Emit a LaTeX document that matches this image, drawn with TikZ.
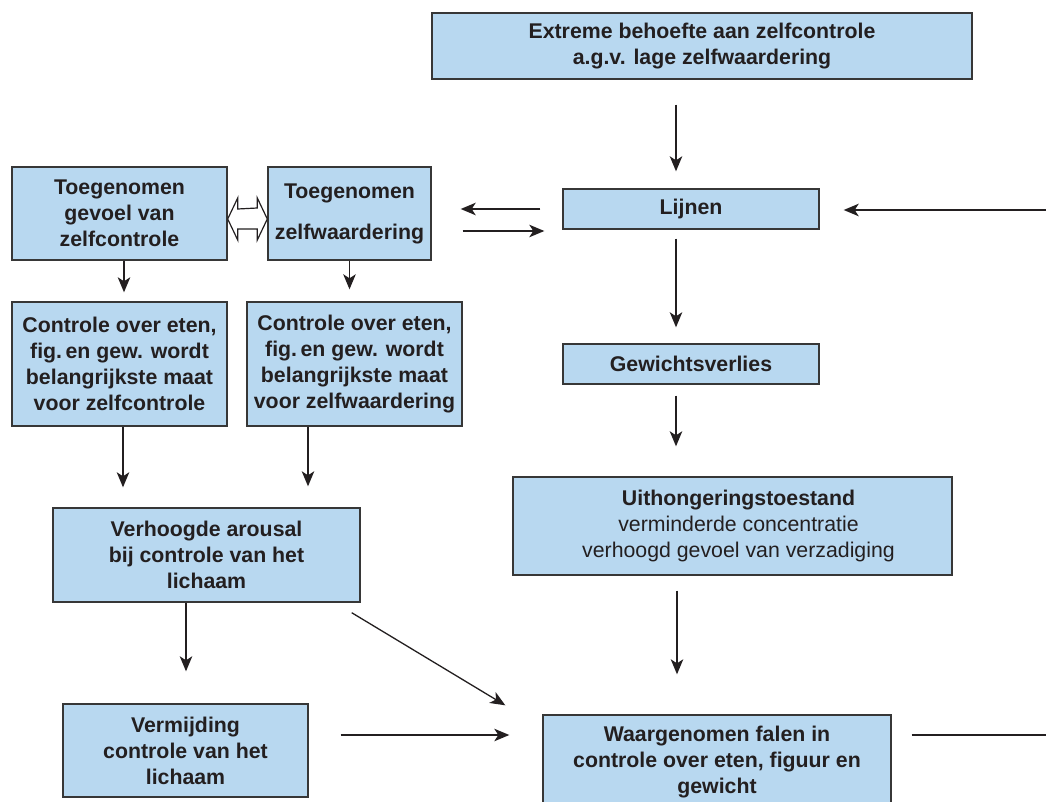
\documentclass[tikz,border=0pt]{standalone}
\usepackage{fontspec}
\setmainfont{Liberation Sans}
\usetikzlibrary{arrows.meta,calc}
\definecolor{boxfill}{RGB}{184,216,240}
\definecolor{boxline}{RGB}{55,55,55}
\definecolor{ink}{RGB}{35,31,32}
\tikzset{
  box/.style={rectangle, draw=boxline, line width=1.4pt, fill=boxfill, text=ink,
    font=\bfseries\fontsize{21.3}{26}\selectfont, align=center, inner sep=0pt},
  arr/.style={draw=ink, line width=1.3pt, -{Stealth[length=15pt,width=12.5pt,inset=4pt]}},
  plainline/.style={draw=ink, line width=1.3pt},
  dblarrow/.style={draw=ink, line width=1.2pt, fill=white, line join=miter}
}
\begin{document}
\begin{tikzpicture}[x=1pt,y=-1pt]
\useasboundingbox (0,0) rectangle (1046,802);
\clip (0,0) rectangle (1046,802);
\fill[white] (0,0) rectangle (1046,802);

% right column
\node[box, minimum width=540pt, minimum height=66pt] (top) at (702,46)
  {Extreme behoefte aan zelfcontrole\\a.g.v. lage zelfwaardering};
\node[box, minimum width=256pt, minimum height=40pt] (lijnen) at (691,209) {Lijnen};
\node[box, minimum width=256pt, minimum height=40pt] (gewicht) at (691,364) {Gewichtsverlies};
\node[box, minimum width=439pt, minimum height=98pt] (uith) at (732.5,526)
  {\hspace*{12pt}Uithongeringstoestand\\\hspace*{12pt}{\mdseries verminderde concentratie}\\\hspace*{12pt}{\mdseries verhoogd gevoel van verzadiging}};
\node[box, minimum width=348pt, minimum height=95pt] (waarg) at (717,762.5)
  {Waargenomen falen in\\controle over eten, figuur en\\gewicht};

% left part
\node[box, minimum width=215pt, minimum height=93pt] (tgz) at (119.5,213.5)
  {Toegenomen\\gevoel van\\zelfcontrole};
\node[box, minimum width=163pt, minimum height=93pt] (tzw) at (349.5,213.5)
  {\rule{0pt}{6pt}Toegenomen\\[15pt]zelfwaardering};
\node[box, minimum width=215pt, minimum height=124pt] (coz) at (119.5,364)
  {Controle over eten,\\fig.\,en gew. wordt\\belangrijkste maat\\voor zelfcontrole};
\node[box, minimum width=215pt, minimum height=124pt] (cozw) at (354.5,364)
  {Controle over eten,\\fig.\,en gew. wordt\\belangrijkste maat\\voor zelfwaardering};
\node[box, minimum width=307pt, minimum height=94pt] (arousal) at (206.5,555)
  {Verhoogde arousal\\bij controle van het\\lichaam};
\node[box, minimum width=245pt, minimum height=93pt] (verm) at (185.5,750.5)
  {Vermijding\\controle van het\\lichaam};

\coordinate (rin) at (1046,210);
\coordinate (rout) at (1046,735);

% right column arrows
\draw[arr] ($(top.south)+(-26,25)$) -- ($(lijnen.north)+(-15,-17)$);
\draw[arr] ($(lijnen.south)+(-15,9)$) -- ($(gewicht.north)+(-15,-16)$);
\draw[arr] ($(gewicht.south)+(-15,11)$) -- ($(uith.north)+(-56.5,-30)$);
\draw[arr] ($(uith.south)+(-55.5,15)$) -- ($(waarg.north)+(-40,-40)$);
\draw[arr] (rin) -- ($(lijnen.east)+(24,1)$);
\draw[plainline] ($(waarg.east)+(20,-27.5)$) -- (rout);

% between Lijnen and Toegenomen zelfwaardering
\draw[arr] ($(lijnen.west)+(-22,0)$) -- ($(tzw.east)+(29,-4.5)$);
\draw[arr] ($(tzw.east)+(31,17.5)$) -- ($(lijnen.west)+(-18,22)$);

% double open arrow
\coordinate (dl) at ($(tgz.east)+(0,5.5)$);
\coordinate (dr) at ($(tzw.west)+(0,5.5)$);
\draw[dblarrow] (dl) -- ++(10,-21) -- ++(0,11) -- ($(dr)+(-10,-11)$) -- ++(0,-10)
  -- (dr) -- ++(-10,21) -- ++(0,-11) -- ($(dl)+(10,10)$) -- ++(0,11) -- cycle;

% left column arrows
\draw[arr] ($(tgz.south)+(4.5,0)$) -- ($(coz.north)+(4.5,-9)$);
\draw[arr] ($(tzw.south)+(0,0)$) -- ($(cozw.north)+(-5,-12)$);
\draw[arr] ($(coz.south)+(3.5,0)$) -- ($(arousal.north)+(-83.5,-20)$);
\draw[arr] ($(cozw.south)+(-46.5,0)$) -- ($(arousal.north)+(101.5,-21)$);
\draw[arr] ($(arousal.south)+(-20.5,0)$) -- ($(verm.north)+(0.5,-32)$);
\draw[arr] ($(arousal.south east)+(-9,10)$) -- ($(waarg.north west)+(-37,-9)$);
\draw[arr] ($(verm.east)+(32,-15.5)$) -- ($(waarg.west)+(-33,-27.5)$);
\end{tikzpicture}
\end{document}
